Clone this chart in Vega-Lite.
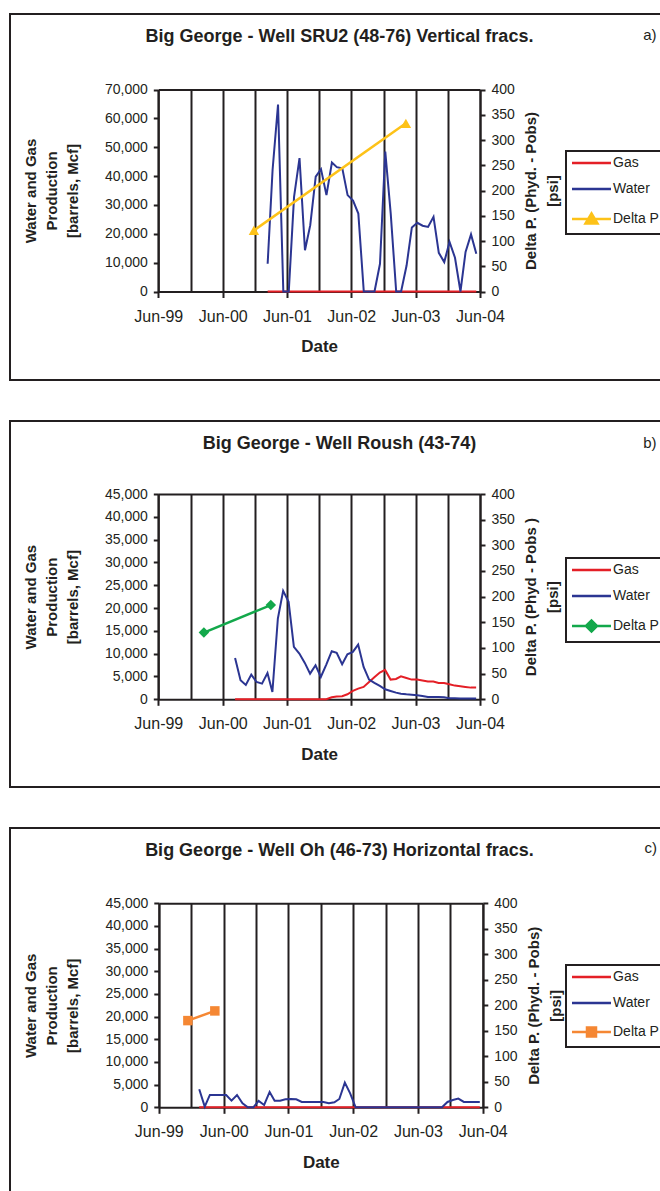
{
  "$schema": "https://vega.github.io/schema/vega-lite/v6.json",
  "background": "white",
  "padding": {"left": 9, "top": 13, "right": 0, "bottom": 0},
  "autosize": {"type": "pad"},
  "config": {
    "font": "Liberation Sans",
    "view": {"stroke": "#231f20", "strokeWidth": 2},
    "axis": {
      "labelFont": "Liberation Sans", "titleFont": "Liberation Sans",
      "labelColor": "#231f20", "titleColor": "#231f20",
      "domainColor": "#231f20", "domainWidth": 2,
      "tickColor": "#231f20", "tickWidth": 2,
      "gridColor": "#231f20", "gridWidth": 2, "gridOpacity": 1,
      "labelFontSize": 14, "titleFontSize": 15, "titleFontWeight": "bold",
      "labelOverlap": false, "labelFlush": false, "labelBound": false
    },
    "legend": {
      "orient": "none", "title": null, "strokeColor": "#231f20", "padding": 5,
      "symbolSize": 100, "symbolStrokeWidth": 2.5, "symbolType": "M-1.2,0H6.6",
      "labelFont": "Liberation Sans", "labelFontSize": 14, "labelColor": "#231f20",
      "labelOffset": 28, "rowPadding": 12
    },
    "title": {"font": "Liberation Sans", "fontSize": 18, "fontWeight": "bold", "color": "#231f20", "anchor": "middle", "frame": "group", "offset": -32}
  },
  "resolve": {"scale": {"color": "independent"}, "legend": {"color": "independent"}},
  "spacing": 39,
  "datasets": {
    "sru2_prod": [
      {"date": "2001-02-11", "Gas": 0, "Water": 9600},
      {"date": "2001-03-11", "Gas": 0, "Water": 42100},
      {"date": "2001-04-11", "Gas": 0, "Water": 64800},
      {"date": "2001-05-11", "Gas": 0, "Water": 0},
      {"date": "2001-06-11", "Gas": 0, "Water": 0},
      {"date": "2001-07-11", "Gas": 0, "Water": 32800},
      {"date": "2001-08-11", "Gas": 0, "Water": 46200},
      {"date": "2001-09-11", "Gas": 0, "Water": 14300},
      {"date": "2001-10-11", "Gas": 0, "Water": 23000},
      {"date": "2001-11-11", "Gas": 0, "Water": 39800},
      {"date": "2001-12-11", "Gas": 0, "Water": 42400},
      {"date": "2002-01-11", "Gas": 0, "Water": 33400},
      {"date": "2002-02-11", "Gas": 0, "Water": 44700},
      {"date": "2002-03-11", "Gas": 0, "Water": 43100},
      {"date": "2002-04-11", "Gas": 0, "Water": 42700},
      {"date": "2002-05-11", "Gas": 0, "Water": 33400},
      {"date": "2002-06-11", "Gas": 0, "Water": 31500},
      {"date": "2002-07-11", "Gas": 0, "Water": 27000},
      {"date": "2002-08-11", "Gas": 0, "Water": 0},
      {"date": "2002-09-11", "Gas": 0, "Water": 0},
      {"date": "2002-10-11", "Gas": 0, "Water": 0},
      {"date": "2002-11-11", "Gas": 0, "Water": 9600},
      {"date": "2002-12-11", "Gas": 0, "Water": 48500},
      {"date": "2003-01-11", "Gas": 0, "Water": 27000},
      {"date": "2003-02-11", "Gas": 0, "Water": 0},
      {"date": "2003-03-11", "Gas": 0, "Water": 0},
      {"date": "2003-04-11", "Gas": 0, "Water": 9000},
      {"date": "2003-05-11", "Gas": 0, "Water": 22200},
      {"date": "2003-06-11", "Gas": 0, "Water": 23800},
      {"date": "2003-07-11", "Gas": 0, "Water": 22800},
      {"date": "2003-08-11", "Gas": 0, "Water": 22400},
      {"date": "2003-09-11", "Gas": 0, "Water": 25900},
      {"date": "2003-10-11", "Gas": 0, "Water": 13400},
      {"date": "2003-11-11", "Gas": 0, "Water": 10200},
      {"date": "2003-12-11", "Gas": 0, "Water": 17200},
      {"date": "2004-01-11", "Gas": 0, "Water": 11700},
      {"date": "2004-02-11", "Gas": 0, "Water": 0},
      {"date": "2004-03-11", "Gas": 0, "Water": 13700},
      {"date": "2004-04-11", "Gas": 0, "Water": 19800},
      {"date": "2004-05-11", "Gas": 0, "Water": 13100}
    ],
    "sru2_dp": [
      {"date": "2000-11-25", "Delta P": 121},
      {"date": "2003-04-07", "Delta P": 333}
    ],
    "roush_prod": [
      {"date": "2000-08-10", "Gas": 0, "Water": 9070},
      {"date": "2000-09-10", "Gas": 0, "Water": 4170},
      {"date": "2000-10-10", "Gas": 0, "Water": 3150},
      {"date": "2000-11-10", "Gas": 0, "Water": 5410},
      {"date": "2000-12-10", "Gas": 0, "Water": 3800},
      {"date": "2001-01-10", "Gas": 0, "Water": 3440},
      {"date": "2001-02-10", "Gas": 0, "Water": 5780},
      {"date": "2001-03-10", "Gas": 0, "Water": 1610},
      {"date": "2001-04-10", "Gas": 0, "Water": 17700},
      {"date": "2001-05-10", "Gas": 0, "Water": 23780},
      {"date": "2001-06-10", "Gas": 0, "Water": 21360},
      {"date": "2001-07-10", "Gas": 0, "Water": 11490},
      {"date": "2001-08-10", "Gas": 0, "Water": 10020},
      {"date": "2001-09-10", "Gas": 0, "Water": 7980},
      {"date": "2001-10-10", "Gas": 0, "Water": 5630},
      {"date": "2001-11-10", "Gas": 0, "Water": 7460},
      {"date": "2001-12-10", "Gas": 0, "Water": 4900},
      {"date": "2002-01-10", "Gas": 0, "Water": 7610},
      {"date": "2002-02-10", "Gas": 440, "Water": 10540},
      {"date": "2002-03-10", "Gas": 590, "Water": 10170},
      {"date": "2002-04-10", "Gas": 660, "Water": 7680},
      {"date": "2002-05-10", "Gas": 1100, "Water": 9880},
      {"date": "2002-06-10", "Gas": 1830, "Water": 10390},
      {"date": "2002-07-10", "Gas": 2340, "Water": 12000},
      {"date": "2002-08-10", "Gas": 2710, "Water": 7100},
      {"date": "2002-09-10", "Gas": 3800, "Water": 4320},
      {"date": "2002-10-10", "Gas": 4830, "Water": 3590},
      {"date": "2002-11-10", "Gas": 5850, "Water": 2930},
      {"date": "2002-12-10", "Gas": 6440, "Water": 2200},
      {"date": "2003-01-10", "Gas": 4320, "Water": 1830},
      {"date": "2003-02-10", "Gas": 4460, "Water": 1460},
      {"date": "2003-03-10", "Gas": 5050, "Water": 1240},
      {"date": "2003-04-10", "Gas": 4680, "Water": 1100},
      {"date": "2003-05-10", "Gas": 4320, "Water": 1020},
      {"date": "2003-06-10", "Gas": 4320, "Water": 880},
      {"date": "2003-07-10", "Gas": 4100, "Water": 730},
      {"date": "2003-08-10", "Gas": 3880, "Water": 510},
      {"date": "2003-09-10", "Gas": 3880, "Water": 510},
      {"date": "2003-10-10", "Gas": 3590, "Water": 510},
      {"date": "2003-11-10", "Gas": 3590, "Water": 440},
      {"date": "2003-12-10", "Gas": 3290, "Water": 220},
      {"date": "2004-01-10", "Gas": 3000, "Water": 220},
      {"date": "2004-02-10", "Gas": 2850, "Water": 200},
      {"date": "2004-03-10", "Gas": 2710, "Water": 200},
      {"date": "2004-04-10", "Gas": 2560, "Water": 150},
      {"date": "2004-05-10", "Gas": 2560, "Water": 150}
    ],
    "roush_dp": [
      {"date": "2000-02-15", "Delta P": 130},
      {"date": "2001-03-01", "Delta P": 183.5}
    ],
    "oh_prod": [
      {"date": "2000-01-15", "Gas": 0, "Water": 3970},
      {"date": "2000-02-15", "Gas": 0, "Water": 150},
      {"date": "2000-03-15", "Gas": 0, "Water": 2720},
      {"date": "2000-04-15", "Gas": 0, "Water": 2720},
      {"date": "2000-05-15", "Gas": 0, "Water": 2720},
      {"date": "2000-06-15", "Gas": 0, "Water": 2720},
      {"date": "2000-07-15", "Gas": 0, "Water": 1470},
      {"date": "2000-08-15", "Gas": 0, "Water": 2720},
      {"date": "2000-09-15", "Gas": 0, "Water": 880},
      {"date": "2000-10-15", "Gas": 0, "Water": 0},
      {"date": "2000-11-15", "Gas": 0, "Water": 0},
      {"date": "2000-12-15", "Gas": 0, "Water": 1400},
      {"date": "2001-01-15", "Gas": 0, "Water": 510},
      {"date": "2001-02-15", "Gas": 0, "Water": 3380},
      {"date": "2001-03-15", "Gas": 0, "Water": 1470},
      {"date": "2001-04-15", "Gas": 0, "Water": 1470},
      {"date": "2001-05-15", "Gas": 0, "Water": 1760},
      {"date": "2001-06-15", "Gas": 0, "Water": 1840},
      {"date": "2001-07-15", "Gas": 0, "Water": 1760},
      {"date": "2001-08-15", "Gas": 0, "Water": 1180},
      {"date": "2001-09-15", "Gas": 0, "Water": 1180},
      {"date": "2001-10-15", "Gas": 0, "Water": 1180},
      {"date": "2001-11-15", "Gas": 0, "Water": 1180},
      {"date": "2001-12-15", "Gas": 0, "Water": 1180},
      {"date": "2002-01-15", "Gas": 0, "Water": 880},
      {"date": "2002-02-15", "Gas": 0, "Water": 1100},
      {"date": "2002-03-15", "Gas": 0, "Water": 1840},
      {"date": "2002-04-15", "Gas": 0, "Water": 5440},
      {"date": "2002-05-15", "Gas": 0, "Water": 3090},
      {"date": "2002-06-15", "Gas": 0, "Water": 0},
      {"date": "2002-07-15", "Gas": 0, "Water": 0},
      {"date": "2002-08-15", "Gas": 0, "Water": 0},
      {"date": "2002-09-15", "Gas": 0, "Water": 0},
      {"date": "2002-10-15", "Gas": 0, "Water": 0},
      {"date": "2002-11-15", "Gas": 0, "Water": 0},
      {"date": "2002-12-15", "Gas": 0, "Water": 0},
      {"date": "2003-01-15", "Gas": 0, "Water": 0},
      {"date": "2003-02-15", "Gas": 0, "Water": 0},
      {"date": "2003-03-15", "Gas": 0, "Water": 0},
      {"date": "2003-04-15", "Gas": 0, "Water": 0},
      {"date": "2003-05-15", "Gas": 0, "Water": 0},
      {"date": "2003-06-15", "Gas": 0, "Water": 0},
      {"date": "2003-07-15", "Gas": 0, "Water": 0},
      {"date": "2003-08-15", "Gas": 0, "Water": 0},
      {"date": "2003-09-15", "Gas": 0, "Water": 0},
      {"date": "2003-10-15", "Gas": 0, "Water": 0},
      {"date": "2003-11-15", "Gas": 0, "Water": 1180},
      {"date": "2003-12-15", "Gas": 0, "Water": 1620},
      {"date": "2004-01-15", "Gas": 0, "Water": 1910},
      {"date": "2004-02-15", "Gas": 0, "Water": 1180},
      {"date": "2004-03-15", "Gas": 0, "Water": 1180},
      {"date": "2004-04-15", "Gas": 0, "Water": 1180},
      {"date": "2004-05-15", "Gas": 0, "Water": 1180}
    ],
    "oh_dp": [
      {"date": "1999-11-12", "Delta P": 170},
      {"date": "2000-04-12", "Delta P": 189}
    ]
  },
  "vconcat": [
    {
      "width": 659, "height": 366,
      "title": {"text": "Big George - Well SRU2 (48-76) Vertical fracs."},
      "layer": [
        {
          "data": {"name": "sru2_prod"},
          "transform": [{"fold": ["Gas", "Water"], "as": ["series", "bbl"]}],
          "mark": {"type": "line", "strokeWidth": 2},
          "encoding": {
            "x": {"field": "date", "type": "temporal",
              "scale": {"type": "utc", "domain": [{"year": 1999, "month": 6, "date": 1, "utc": true}, {"year": 2004, "month": 6, "date": 1, "utc": true}], "range": [148.3, 470]},
              "axis": {"orient": "bottom", "offset": -88.5, "grid": false, "format": "%b-%y",
                "values": [{"year": 1999, "month": 6, "date": 1, "utc": true}, {"year": 2000, "month": 6, "date": 1, "utc": true}, {"year": 2001, "month": 6, "date": 1, "utc": true}, {"year": 2002, "month": 6, "date": 1, "utc": true}, {"year": 2003, "month": 6, "date": 1, "utc": true}, {"year": 2004, "month": 6, "date": 1, "utc": true}],
                "tickSize": 6, "labelFontSize": 16, "labelPadding": 10.5, "title": "Date", "titleFontSize": 17, "titlePadding": 14.5}},
            "y": {"field": "bbl", "type": "quantitative",
              "scale": {"domain": [0, 70000], "range": [277.5, 75.5], "nice": false},
              "axis": {"orient": "left", "offset": -148.3, "grid": false, "format": ",d",
                "values": [0, 10000, 20000, 30000, 40000, 50000, 60000, 70000],
                "tickSize": 5, "labelPadding": 6, "title": ["Water and Gas", "Production", "[barrels, Mcf]"], "titleLineHeight": 21, "titlePadding": 24}},
            "color": {"field": "series", "type": "nominal",
              "scale": {"domain": ["Gas", "Water", "Delta P"], "range": ["#e41f26", "#2b3592", "#fdc218"]},
              "legend": {"legendX": 556, "legendY": 137,
                "encode": {"legend": {"update": {"strokeWidth": {"value": 2}}},
                  "symbols": {"update": {"shape": [{"test": "datum.value === 'Delta P'", "value": "M-1.2,0H6.6M2.7,-1.1L3.9,0.9L1.5,0.9Z"}, {"value": "M-1.2,0H6.6"}], "fill": {"value": "#fdc218"}}}}}}
          }
        },
        {
          "data": {"name": "sru2_dp"},
          "transform": [{"fold": ["Delta P"], "as": ["series", "psi"]}],
          "mark": {"type": "line", "strokeWidth": 2.5, "point": {"shape": "triangle-up", "size": 110, "filled": true, "opacity": 1}},
          "encoding": {
            "x": {"field": "date", "type": "temporal",
              "scale": {"type": "utc", "domain": [{"year": 1999, "month": 6, "date": 1, "utc": true}, {"year": 2004, "month": 6, "date": 1, "utc": true}], "range": [148.3, 470]},
              "axis": {"orient": "top", "offset": -75.5, "grid": true, "ticks": false, "labels": false, "title": null,
                "values": [{"year": 1999, "month": 6, "date": 1, "utc": true}, {"year": 1999, "month": 12, "date": 1, "utc": true}, {"year": 2000, "month": 6, "date": 1, "utc": true}, {"year": 2000, "month": 12, "date": 1, "utc": true}, {"year": 2001, "month": 6, "date": 1, "utc": true}, {"year": 2001, "month": 12, "date": 1, "utc": true}, {"year": 2002, "month": 6, "date": 1, "utc": true}, {"year": 2002, "month": 12, "date": 1, "utc": true}, {"year": 2003, "month": 6, "date": 1, "utc": true}, {"year": 2003, "month": 12, "date": 1, "utc": true}, {"year": 2004, "month": 6, "date": 1, "utc": true}]}},
            "y": {"field": "psi", "type": "quantitative",
              "scale": {"domain": [0, 400], "range": [277.5, 75.5], "nice": false},
              "axis": {"orient": "right", "offset": -189, "grid": false,
                "values": [0, 50, 100, 150, 200, 250, 300, 350, 400],
                "tickSize": 5, "labelPadding": 6, "encode": {"ticks": {"update": {"x": {"value": -5}}}},
                "title": ["Delta P. (Phyd. - Pobs)", "[psi]"], "titleAngle": 270, "titleBaseline": "top", "titleLineHeight": 22, "titlePadding": -13}},
            "color": {"field": "series", "type": "nominal"}
          }
        },
        {
          "data": {"values": [{"tag": "a)"}]},
          "mark": {"type": "text", "align": "right", "baseline": "middle", "fontSize": 15, "font": "Liberation Sans", "color": "#231f20"},
          "encoding": {
            "x": {"datum": {"year": 2007, "month": 3, "date": 1, "utc": true}, "type": "temporal",
              "scale": {"type": "utc", "domain": [{"year": 1999, "month": 6, "date": 1, "utc": true}, {"year": 2004, "month": 6, "date": 1, "utc": true}], "range": [148.3, 470]}, "axis": null},
            "y": {"datum": 88900, "type": "quantitative", "scale": {"domain": [0, 70000], "range": [277.5, 75.5], "nice": false}, "axis": null},
            "text": {"field": "tag"}
          }
        }
      ],
      "resolve": {"scale": {"y": "independent"}, "axis": {"x": "independent"}}
    },
    {
      "width": 659, "height": 366,
      "title": {"text": "Big George - Well Roush (43-74)"},
      "layer": [
        {
          "data": {"name": "roush_prod"},
          "transform": [{"fold": ["Gas", "Water"], "as": ["series", "bbl"]}],
          "mark": {"type": "line", "strokeWidth": 2},
          "encoding": {
            "x": {"field": "date", "type": "temporal",
              "scale": {"type": "utc", "domain": [{"year": 1999, "month": 6, "date": 1, "utc": true}, {"year": 2004, "month": 6, "date": 1, "utc": true}], "range": [148.3, 470]},
              "axis": {"orient": "bottom", "offset": -87.7, "grid": false, "format": "%b-%y",
                "values": [{"year": 1999, "month": 6, "date": 1, "utc": true}, {"year": 2000, "month": 6, "date": 1, "utc": true}, {"year": 2001, "month": 6, "date": 1, "utc": true}, {"year": 2002, "month": 6, "date": 1, "utc": true}, {"year": 2003, "month": 6, "date": 1, "utc": true}, {"year": 2004, "month": 6, "date": 1, "utc": true}],
                "tickSize": 6, "labelFontSize": 16, "labelPadding": 10.5, "title": "Date", "titleFontSize": 17, "titlePadding": 14.5}},
            "y": {"field": "bbl", "type": "quantitative",
              "scale": {"domain": [0, 45000], "range": [278.3, 73], "nice": false},
              "axis": {"orient": "left", "offset": -148.3, "grid": false, "format": ",d",
                "values": [0, 5000, 10000, 15000, 20000, 25000, 30000, 35000, 40000, 45000],
                "tickSize": 5, "labelPadding": 6, "title": ["Water and Gas", "Production", "[barrels, Mcf]"], "titleLineHeight": 21, "titlePadding": 24}},
            "color": {"field": "series", "type": "nominal",
              "scale": {"domain": ["Gas", "Water", "Delta P"], "range": ["#e41f26", "#2b3592", "#13a84b"]},
              "legend": {"legendX": 556, "legendY": 137,
                "encode": {"legend": {"update": {"strokeWidth": {"value": 2}}},
                  "symbols": {"update": {"shape": [{"test": "datum.value === 'Delta P'", "value": "M-1.2,0H6.6M1.6,0L2.7,-1.1L3.8,0L2.7,1.1Z"}, {"value": "M-1.2,0H6.6"}], "fill": {"value": "#13a84b"}}}}}}
          }
        },
        {
          "data": {"name": "roush_dp"},
          "transform": [{"fold": ["Delta P"], "as": ["series", "psi"]}],
          "mark": {"type": "line", "strokeWidth": 2.5, "point": {"shape": "diamond", "size": 110, "filled": true, "opacity": 1}},
          "encoding": {
            "x": {"field": "date", "type": "temporal",
              "scale": {"type": "utc", "domain": [{"year": 1999, "month": 6, "date": 1, "utc": true}, {"year": 2004, "month": 6, "date": 1, "utc": true}], "range": [148.3, 470]},
              "axis": {"orient": "top", "offset": -73, "grid": true, "ticks": false, "labels": false, "title": null,
                "values": [{"year": 1999, "month": 6, "date": 1, "utc": true}, {"year": 1999, "month": 12, "date": 1, "utc": true}, {"year": 2000, "month": 6, "date": 1, "utc": true}, {"year": 2000, "month": 12, "date": 1, "utc": true}, {"year": 2001, "month": 6, "date": 1, "utc": true}, {"year": 2001, "month": 12, "date": 1, "utc": true}, {"year": 2002, "month": 6, "date": 1, "utc": true}, {"year": 2002, "month": 12, "date": 1, "utc": true}, {"year": 2003, "month": 6, "date": 1, "utc": true}, {"year": 2003, "month": 12, "date": 1, "utc": true}, {"year": 2004, "month": 6, "date": 1, "utc": true}]}},
            "y": {"field": "psi", "type": "quantitative",
              "scale": {"domain": [0, 400], "range": [278.3, 73], "nice": false},
              "axis": {"orient": "right", "offset": -189, "grid": false,
                "values": [0, 50, 100, 150, 200, 250, 300, 350, 400],
                "tickSize": 5, "labelPadding": 6, "encode": {"ticks": {"update": {"x": {"value": -5}}}},
                "title": ["Delta P. (Phyd - Pobs )", "[psi]"], "titleAngle": 270, "titleBaseline": "top", "titleLineHeight": 22, "titlePadding": -13}},
            "color": {"field": "series", "type": "nominal"}
          }
        },
        {
          "data": {"values": [{"tag": "b)"}]},
          "mark": {"type": "text", "align": "right", "baseline": "middle", "fontSize": 15, "font": "Liberation Sans", "color": "#231f20"},
          "encoding": {
            "x": {"datum": {"year": 2007, "month": 3, "date": 1, "utc": true}, "type": "temporal",
              "scale": {"type": "utc", "domain": [{"year": 1999, "month": 6, "date": 1, "utc": true}, {"year": 2004, "month": 6, "date": 1, "utc": true}], "range": [148.3, 470]}, "axis": null},
            "y": {"datum": 56100, "type": "quantitative", "scale": {"domain": [0, 45000], "range": [278.3, 73], "nice": false}, "axis": null},
            "text": {"field": "tag"}
          }
        }
      ],
      "resolve": {"scale": {"y": "independent"}, "axis": {"x": "independent"}}
    },
    {
      "width": 659, "height": 366,
      "title": {"text": "Big George - Well Oh (46-73) Horizontal fracs."},
      "layer": [
        {
          "data": {"name": "oh_prod"},
          "transform": [{"fold": ["Gas", "Water"], "as": ["series", "bbl"]}],
          "mark": {"type": "line", "strokeWidth": 2},
          "encoding": {
            "x": {"field": "date", "type": "temporal",
              "scale": {"type": "utc", "domain": [{"year": 1999, "month": 6, "date": 1, "utc": true}, {"year": 2004, "month": 6, "date": 1, "utc": true}], "range": [148.8, 472.8]},
              "axis": {"orient": "bottom", "offset": -86.7, "grid": false, "format": "%b-%y",
                "values": [{"year": 1999, "month": 6, "date": 1, "utc": true}, {"year": 2000, "month": 6, "date": 1, "utc": true}, {"year": 2001, "month": 6, "date": 1, "utc": true}, {"year": 2002, "month": 6, "date": 1, "utc": true}, {"year": 2003, "month": 6, "date": 1, "utc": true}, {"year": 2004, "month": 6, "date": 1, "utc": true}],
                "tickSize": 6, "labelFontSize": 16, "labelPadding": 10.5, "title": "Date", "titleFontSize": 17, "titlePadding": 14.5}},
            "y": {"field": "bbl", "type": "quantitative",
              "scale": {"domain": [0, 45000], "range": [279.3, 75.3], "nice": false},
              "axis": {"orient": "left", "offset": -148.8, "grid": false, "format": ",d",
                "values": [0, 5000, 10000, 15000, 20000, 25000, 30000, 35000, 40000, 45000],
                "tickSize": 5, "labelPadding": 6, "title": ["Water and Gas", "Production", "[barrels, Mcf]"], "titleLineHeight": 21, "titlePadding": 24}},
            "color": {"field": "series", "type": "nominal",
              "scale": {"domain": ["Gas", "Water", "Delta P"], "range": ["#e41f26", "#2b3592", "#f58733"]},
              "legend": {"legendX": 556, "legendY": 137,
                "encode": {"legend": {"update": {"strokeWidth": {"value": 2}}},
                  "symbols": {"update": {"shape": [{"test": "datum.value === 'Delta P'", "value": "M-1.2,0H6.6M1.8,-0.9H3.6V0.9H1.8Z"}, {"value": "M-1.2,0H6.6"}], "fill": {"value": "#f58733"}}}}}}
          }
        },
        {
          "data": {"name": "oh_dp"},
          "transform": [{"fold": ["Delta P"], "as": ["series", "psi"]}],
          "mark": {"type": "line", "strokeWidth": 2.5, "point": {"shape": "square", "size": 90, "filled": true, "opacity": 1}},
          "encoding": {
            "x": {"field": "date", "type": "temporal",
              "scale": {"type": "utc", "domain": [{"year": 1999, "month": 6, "date": 1, "utc": true}, {"year": 2004, "month": 6, "date": 1, "utc": true}], "range": [148.8, 472.8]},
              "axis": {"orient": "top", "offset": -75.3, "grid": true, "ticks": false, "labels": false, "title": null,
                "values": [{"year": 1999, "month": 6, "date": 1, "utc": true}, {"year": 1999, "month": 12, "date": 1, "utc": true}, {"year": 2000, "month": 6, "date": 1, "utc": true}, {"year": 2000, "month": 12, "date": 1, "utc": true}, {"year": 2001, "month": 6, "date": 1, "utc": true}, {"year": 2001, "month": 12, "date": 1, "utc": true}, {"year": 2002, "month": 6, "date": 1, "utc": true}, {"year": 2002, "month": 12, "date": 1, "utc": true}, {"year": 2003, "month": 6, "date": 1, "utc": true}, {"year": 2003, "month": 12, "date": 1, "utc": true}, {"year": 2004, "month": 6, "date": 1, "utc": true}]}},
            "y": {"field": "psi", "type": "quantitative",
              "scale": {"domain": [0, 400], "range": [279.3, 75.3], "nice": false},
              "axis": {"orient": "right", "offset": -186.2, "grid": false,
                "values": [0, 50, 100, 150, 200, 250, 300, 350, 400],
                "tickSize": 5, "labelPadding": 6, "encode": {"ticks": {"update": {"x": {"value": -5}}}},
                "title": ["Delta P. (Phyd. - Pobs)", "[psi]"], "titleAngle": 270, "titleBaseline": "top", "titleLineHeight": 22, "titlePadding": -13}},
            "color": {"field": "series", "type": "nominal"}
          }
        },
        {
          "data": {"values": [{"tag": "c)"}]},
          "mark": {"type": "text", "align": "right", "baseline": "middle", "fontSize": 15, "font": "Liberation Sans", "color": "#231f20"},
          "encoding": {
            "x": {"datum": {"year": 2007, "month": 2, "date": 8, "utc": true}, "type": "temporal",
              "scale": {"type": "utc", "domain": [{"year": 1999, "month": 6, "date": 1, "utc": true}, {"year": 2004, "month": 6, "date": 1, "utc": true}], "range": [148.8, 472.8]}, "axis": null},
            "y": {"datum": 57200, "type": "quantitative", "scale": {"domain": [0, 45000], "range": [279.3, 75.3], "nice": false}, "axis": null},
            "text": {"field": "tag"}
          }
        }
      ],
      "resolve": {"scale": {"y": "independent"}, "axis": {"x": "independent"}}
    }
  ]
}
